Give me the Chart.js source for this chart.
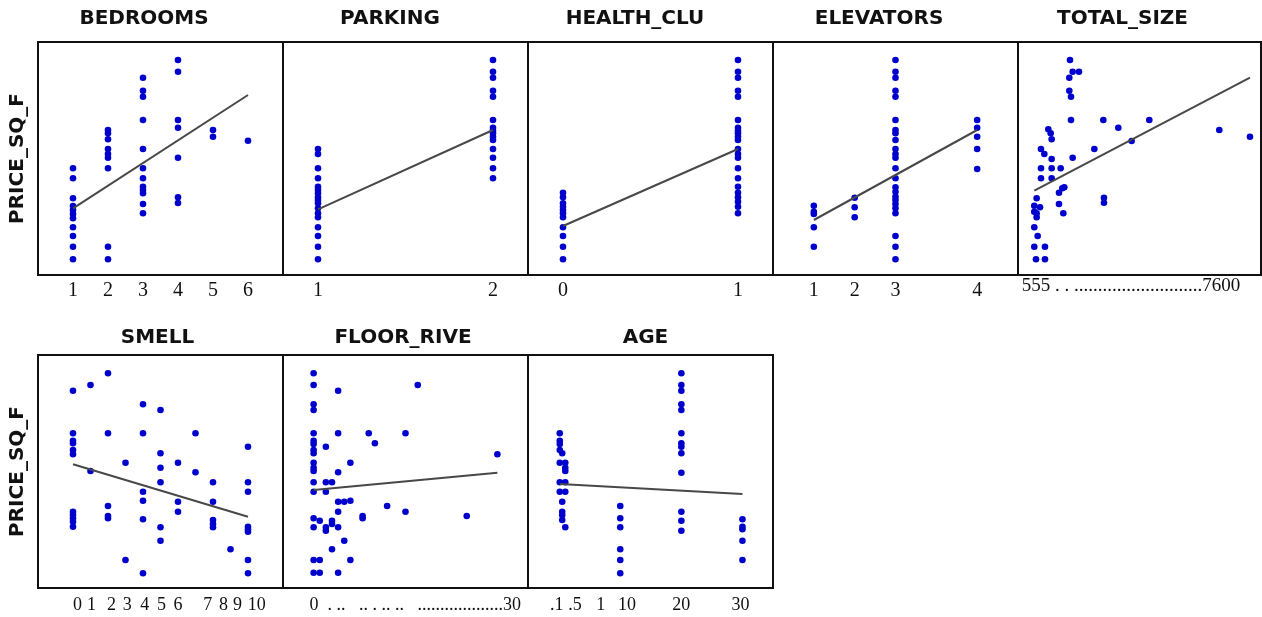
<!DOCTYPE html>
<html>
<head>
<meta charset="utf-8">
<script src="https://cdn.jsdelivr.net/npm/chart.js@4.4.1/dist/chart.umd.min.js"></script>
<style>
  html, body { margin: 0; padding: 0; background: #fff; width: 1262px; height: 617px; overflow: hidden; }
  canvas { position: absolute; }
</style>
</head>
<body>
<script>
// PRICE_SQ_F plotted against each predictor (y has no ticks in the source, arbitrary units)
const bedroomsX = [1,1,1,1,1,1,1,1,1,1,1, 2,2,2,2,2,2,2,2,2, 3,3,3,3,3,3,3,3,3,3,3,3, 4,4,4,4,4,4,4, 5,5, 6];
const bedroomsY = [106.7,96.7,76.7,69,65,61,56.7,47.7,39,28.3,15.7, 145,141.7,135.7,126,121,117.3,106.7,28.3,15.7,
  197.3,184.3,178.3,155,126,106.7,96.7,88.3,85,81.7,71,61.7, 215,203.3,155,147.3,117.3,77.7,72, 145,138.3, 134.3];
const bedroomsFitX = [1, 6];
const bedroomsFitY = [66.7, 180];
const bedroomsTicks = ['1','2','3','4','5','6'];

const parkingX = [1,1,1,1,1,1,1,1,1,1,1,1,1,1,1,1,1, 2,2,2,2,2,2,2,2,2,2,2,2,2,2,2];
const parkingY = [126,121,106.7,96.7,88.3,85,81.7,77.7,75,71.7,66.7,61.7,57.7,47.7,39,28.3,15.7,
  215,203.3,197.3,184.3,178.3,155,147.3,144.3,141.7,138.3,135,126,117.3,106.7,96.7];
const parkingFitX = [1, 2];
const parkingFitY = [65.7, 145];
const parkingTicks = ['1','2'];

const healthX = [0,0,0,0,0,0,0,0,0,0,0, 1,1,1,1,1,1,1,1,1,1,1,1,1,1,1,1,1,1,1,1,1,1];
const healthY = [82.3,77.7,71.7,68.3,65,61.7,57.7,47.7,39,28.3,15.7,
  215,203.3,197.3,184.3,178.3,155,147.3,144.3,141.7,138.3,135,126,121,117.3,106.7,96.7,88.3,82.3,77.7,73.3,68.3,61.7];
const healthFitX = [0, 1];
const healthFitY = [49, 126];
const healthTicks = ['0','1'];

const elevatorsX = ['1','1','1','1','1', '2','2','2',
  '3','3','3','3','3','3','3','3','3','3','3','3','3','3','3','3','3','3','3','3','3','3','3','3',
  '4','4','4','4','4'];
const elevatorsY = [69.3,63.3,61,47.7,28.3, 77.3,67.7,57.7,
  215,203.3,197.3,184.3,178.3,155,145,141.7,135,126,121,117.3,106.7,96.7,87.7,83.3,78.3,75,71,66.7,61.7,39,28.3,15.7,
  155,147.3,138.3,126,106];
const elevatorsFitX = ['1', '4'];
const elevatorsFitY = [55, 145];
const elevatorsTicks = ['', '1', '2', '3', '', '4', ''];

const totalX = [1721,1808,2015,1699,1699,1754,1754,2810,4312,3299, 6598,7600,1013,1090,1122,3735,774,883,2516,1122,
  1808,774,1122,1416,774,1122,1536,1471,1362,632, 2831,2831,555,741,1362,555,632,632,1503,555, 665,555,904,610,904];
const totalY = [215,203.3,203.3,197.3,184.3,178.3,155,155,155,147.3, 145,138.3,145.7,141.7,135.7,134,126,121,126,116,
  117.3,106.7,106.7,106.7,96.7,96.7,87.7,86.7,82.3,76.7, 77.3,72.3,69.3,67.7,71,63.3,61.7,57.7,61.7,47.7, 39,28.3,28.3,15.7,15.7];
const totalFitX = [555, 7600];
const totalFitY = [84.3, 197.3];
const totalTicks = ['555 . . ...........................7600'];

const smellX = [0,0,0,0,0,0,0,0,0,0,0, 1,1, 2,2,2,2,2, 3,3, 4,4,4,4,4,4, 5,5,5,5,5,5, 6,6,6, 7,7, 8,8,8,8,8, 9,
  10,10,10,10,10,10,10,10];
const smellY = [197.3,154.7,147.3,144.7,138,133.7,76.3,73,69.7,66.3,61.3, 203,117, 214.7,154.7,82,72,69.7, 125.3,28,
  183.7,154.7,96.3,87.3,68.7,14.7, 178,134.7,120.3,105.7,60.7,47.3, 125.3,86.3,76.3, 154.7,115.7,
  105.7,86.3,68,64,60.7, 38.7, 141.3,105.7,96.3,61.3,58.7,56.3,28,14.7];
const smellFitX = [0, 10];
const smellFitY = [123.7, 71.3];
const smellTicks = ['0','1','2','3','4','5','6','7','8','9','10'];

const floorX = [0,0,0,0,0,0,0,0,0,0,0,0,0,0,0,0,0,0, 1,1,1, 2,2,2,2,2, 3,3,3,3, 4,4,4,4,4,4,4, 5,5, 6,6,6, 8,8,
  9, 10, 12, 15,15, 17, 25, 30];
const floorY = [214.7,203,183.7,178,154.7,147.3,144,138,134.7,125.3,120.3,117,105.7,96.3,69.7,60.7,28,15.3,
  67.3,28,15.3, 141.3,105.7,96.3,60.7,57.3, 105.7,67.3,64,38.7, 197.3,154.7,115.7,86.3,76.3,60.7,15.3,
  86.3,47.3, 125.3,87.3,28, 72,69.7, 154.7, 144.7, 82, 154.7,76.3, 203, 72, 133.7];
const floorFitX = [0, 30];
const floorFitY = [98, 115.3];
const floorTicks = ['0  . ..   .. . .. ..   ...................30'];

const ageX = [0.1,0.1,0.1,0.1,0.1,0.1,0.1, 0.5,0.5,0.5,0.5,0.5, 1,1,1,1,1,1, 10,10,10,10,10,10,
  20,20,20,20,20,20,20,20,20,20,20,20,20, 30,30,30,30,30];
const ageY = [154.7,147.3,144,138,125.3,105.7,96.3, 134.7,86.3,76.3,73,68, 125.3,120.3,117,105.7,96.3,60.7,
  82,69.7,60.7,38.7,28,14.7, 214.7,203,197.3,183.7,178,154.7,144.7,141.3,134.7,115.3,76.3,67.3,57.3,
  68.7,61.3,58.7,47.3,28];
const ageFitX = [0.1, 30];
const ageFitY = [104, 94];
const ageTicks = ['.1','.5','1','10','20','30'];

const rows = [
  { top: 0, height: 312, titlePad: { top: 7, bottom: 11 }, xH: 37 },
  { top: 318, height: 299, titlePad: { top: 8, bottom: 5 }, xH: 29 }
];

const panels = [
  { title: 'BEDROOMS', row: 0, boxL: 38, boxR: 283, yW: 38, wR: 5, yTitle: true,
    xs: bedroomsX, ys: bedroomsY, fx: bedroomsFitX, fy: bedroomsFitY, min: 0, max: 7,
    tickPos: [1,2,3,4,5,6], labels: bedroomsTicks, size: 20, pad: 4 },
  { title: 'PARKING', row: 0, boxL: 283, boxR: 528, yW: 31, wR: 0,
    xs: parkingX, ys: parkingY, fx: parkingFitX, fy: parkingFitY, min: 0.8, max: 2.2,
    tickPos: [1,2], labels: parkingTicks, size: 20, pad: 4 },
  { title: 'HEALTH_CLU', row: 0, boxL: 528, boxR: 773, yW: 31, wR: 0,
    xs: healthX, ys: healthY, fx: healthFitX, fy: healthFitY, min: -0.2, max: 1.2,
    tickPos: [0,1], labels: healthTicks, size: 20, pad: 4 },
  { title: 'ELEVATORS', row: 0, boxL: 773, boxR: 1018, yW: 33, wR: 0, category: true,
    xs: elevatorsX, ys: elevatorsY, fx: elevatorsFitX, fy: elevatorsFitY,
    labels: elevatorsTicks, size: 20, pad: 4 },
  { title: 'TOTAL_SIZE', row: 0, boxL: 1018, boxR: 1261, yW: 34, wR: 0,
    xs: totalX, ys: totalY, fx: totalFitX, fy: totalFitY, min: 23, max: 7960,
    tickPos: [3713], labels: totalTicks, size: 19, pad: 0 },
  { title: 'SMELL', row: 1, boxL: 38, boxR: 283, yW: 38, wR: 32, yTitle: true,
    xs: smellX, ys: smellY, fx: smellFitX, fy: smellFitY, min: -2, max: 12,
    tickPos: [0.25,1.05,2.2,3.1,4.1,5.05,6,7.7,8.6,9.4,10.5], labels: smellTicks, size: 18, pad: 6 },
  { title: 'FLOOR_RIVE', row: 1, boxL: 283, boxR: 528, yW: 5, wR: 0,
    xs: floorX, ys: floorY, fx: floorFitX, fy: floorFitY, min: -5, max: 35,
    tickPos: [16.6], labels: floorTicks, size: 18, pad: 6 },
  { title: 'AGE', row: 1, boxL: 528, boxR: 773, yW: 10, wR: 0,
    xs: ageX, ys: ageY, fx: ageFitX, fy: ageFitY, min: -5.1, max: 35,
    tickPos: [-0.4,2.6,6.8,11.1,20,29.7], labels: ageTicks, size: 18, pad: 6 }
];

const boxPlugin = {
  id: 'panelBox',
  afterDraw(chart) {
    const a = chart.chartArea;
    const ctx = chart.ctx;
    ctx.save();
    ctx.strokeStyle = '#111';
    ctx.lineWidth = 2;
    ctx.strokeRect(a.left, a.top, a.right - a.left, a.bottom - a.top);
    ctx.restore();
  }
};

panels.forEach(function (p) {
  const r = rows[p.row];
  const cv = document.createElement('canvas');
  cv.width = p.yW + (p.boxR - p.boxL) + p.wR + 2;
  cv.height = r.height;
  cv.style.left = (p.boxL - p.yW) + 'px';
  cv.style.top = r.top + 'px';
  document.body.appendChild(cv);

  const points = p.xs.map((x, i) => ({ x: x, y: p.ys[i] }));
  const fit = p.fx.map((x, i) => ({ x: x, y: p.fy[i] }));

  const xScale = {
    grid: { display: false, drawTicks: false },
    border: { display: false },
    ticks: {
      autoSkip: false, maxRotation: 0, minRotation: 0, padding: p.pad, color: '#111',
      font: { family: 'Liberation Serif', size: p.size },
      callback: (v, i) => p.labels[i]
    },
    // fixed axis height, and no extra side padding for edge labels
    afterFit: sc => { sc.height = r.xH; sc.paddingLeft = 0; sc.paddingRight = 0; }
  };
  if (p.category) {
    xScale.type = 'category';
    xScale.labels = p.labels;
    xScale.offset = false;
  } else {
    xScale.type = 'linear';
    xScale.min = p.min;
    xScale.max = p.max;
    xScale.afterBuildTicks = sc => { sc.ticks = p.tickPos.map(v => ({ value: v })); };
  }

  new Chart(cv, {
    type: 'scatter',
    data: {
      datasets: [
        { data: fit, showLine: true, borderColor: '#484848', borderWidth: 2, pointRadius: 0, fill: false },
        { data: points, pointRadius: 3.3, pointBorderWidth: 0, pointBackgroundColor: '#0000cd', backgroundColor: '#0000cd' }
      ]
    },
    options: {
      responsive: false,
      animation: false,
      events: [],
      layout: { autoPadding: false, padding: { left: 0, right: 2, top: 0, bottom: 0 } },
      plugins: {
        legend: { display: false },
        tooltip: { enabled: false },
        title: {
          display: true, text: p.title, color: '#111', padding: r.titlePad,
          font: { family: 'DejaVu Sans', weight: 'bold', size: 20 }
        }
      },
      scales: {
        x: xScale,
        y: {
          min: 0, max: 233,
          grid: { display: false, drawTicks: false },
          border: { display: false },
          ticks: { display: false },
          title: {
            display: !!p.yTitle, text: 'PRICE_SQ_F', color: '#111', padding: { top: 6, bottom: 0 },
            font: { family: 'DejaVu Sans', weight: 'bold', size: 20 }
          },
          afterFit: sc => { sc.width = p.yW; }
        },
        y2: {
          position: 'right', display: p.wR > 0,
          grid: { display: false, drawTicks: false },
          border: { display: false },
          ticks: { display: false },
          afterFit: sc => { sc.width = p.wR; }
        }
      }
    },
    plugins: [boxPlugin]
  });
});
</script>
</body>
</html>
